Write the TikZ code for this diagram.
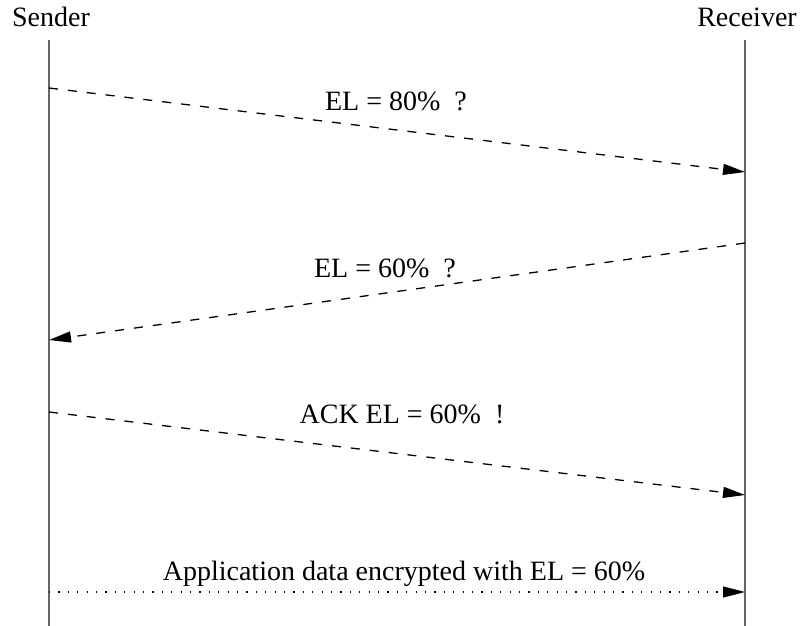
\documentclass[tikz,border=0pt]{standalone}
\usepackage{fontspec}
\setmainfont{Liberation Serif}
\usetikzlibrary{arrows.meta}
\tikzset{
	lifeline/.style={draw=black!60, line width=0.75pt},
	msg/.style={line width=0.65pt, dash pattern=on 4.5pt off 5pt,
		-{Triangle[length=11pt,width=5.5pt]}
	},
	data msg/.style={line width=0.65pt, dash pattern=on 0.6pt off 4.1pt,
		-{Triangle[length=11pt,width=5.5pt]}
	},
	msg label/.style={anchor=base, font=\fontsize{14}{17}\selectfont, inner sep=0pt}
}

\begin{document}
\begin{tikzpicture}[x=0.5pt,y=-0.5pt]
		\useasboundingbox (0,0) rectangle (804,626);
		\node[msg label] (sender) at (51,27) {Sender};
		\node[msg label] (receiver) at (747,27) {Receiver};
		\coordinate (s top) at (49,40);
		\coordinate (s bot) at (49,626);
		\coordinate (r top) at (745,40);
		\coordinate (r bot) at (745,626);
		\draw[lifeline] (s top) -- (s bot);
		\draw[lifeline] (r top) -- (r bot);
		\coordinate (s1) at (49,88);
		\coordinate (r1) at (745,172);
		\coordinate (r2) at (745,243);
		\coordinate (s2) at (49,340);
		\coordinate (s3) at (49,412);
		\coordinate (r3) at (745,495);
		\coordinate (s4) at (49,592);
		\coordinate (r4) at (745,592);
		\draw[msg] (s1) -- (r1);
		\node[msg label] (ask80) at (396,111) {EL = 80\%\ \ ?};
		\draw[msg] (r2) -- (s2);
		\node[msg label] (ask60) at (385,278) {EL = 60\%\ \ ?};
		\draw[msg] (s3) -- (r3);
		\node[msg label] (ack60) at (402,423) {ACK EL = 60\%\ \ !};
		\draw[data msg] (s4) -- (r4);
		\node[msg label] (appdata) at (404,580) {Application data encrypted with EL = 60\%};
\end{tikzpicture}
\end{document}
